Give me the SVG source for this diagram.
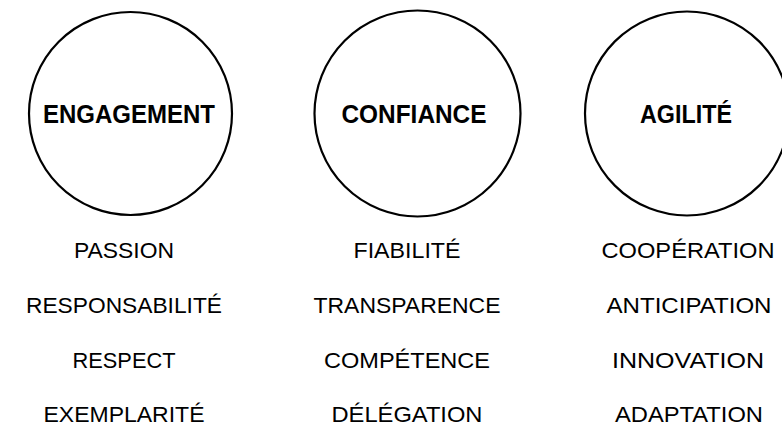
<svg xmlns="http://www.w3.org/2000/svg" width="782" height="426" viewBox="0 0 782 426">
<style>
.c{fill:#fff;stroke:#000;stroke-width:2.2}
.h{font-family:"Liberation Sans",Arial,sans-serif;font-weight:bold;font-size:25px;fill:#000;text-anchor:middle}
.t{font-family:"Liberation Sans",Arial,sans-serif;font-size:22.5px;fill:#000;text-anchor:middle}
</style>
<rect width="782" height="426" fill="#fff"/>
<g id="engagement">
<circle class="c" cx="130.5" cy="113.5" r="101.5"/>
<text class="h" x="129" y="123" textLength="172" lengthAdjust="spacingAndGlyphs">ENGAGEMENT</text>
<text class="t" x="124" y="258" textLength="100" lengthAdjust="spacingAndGlyphs">PASSION</text>
<text class="t" x="124" y="313" textLength="196" lengthAdjust="spacingAndGlyphs">RESPONSABILITÉ</text>
<text class="t" x="124" y="367.5" textLength="103" lengthAdjust="spacingAndGlyphs">RESPECT</text>
<text class="t" x="124" y="422" textLength="161" lengthAdjust="spacingAndGlyphs">EXEMPLARITÉ</text>
</g>
<g id="confiance">
<circle class="c" cx="417.5" cy="113.5" r="103"/>
<text class="h" x="414" y="123" textLength="145" lengthAdjust="spacingAndGlyphs">CONFIANCE</text>
<text class="t" x="407" y="258" textLength="107" lengthAdjust="spacingAndGlyphs">FIABILITÉ</text>
<text class="t" x="407" y="313" textLength="187" lengthAdjust="spacingAndGlyphs">TRANSPARENCE</text>
<text class="t" x="407" y="367.5" textLength="166" lengthAdjust="spacingAndGlyphs">COMPÉTENCE</text>
<text class="t" x="407" y="422" textLength="151" lengthAdjust="spacingAndGlyphs">DÉLÉGATION</text>
</g>
<g id="agilite">
<circle class="c" cx="687" cy="113.5" r="102"/>
<text class="h" x="686" y="123" textLength="92" lengthAdjust="spacingAndGlyphs">AGILITÉ</text>
<text class="t" x="688" y="258" textLength="173" lengthAdjust="spacingAndGlyphs">COOPÉRATION</text>
<text class="t" x="689" y="313" textLength="165" lengthAdjust="spacingAndGlyphs">ANTICIPATION</text>
<text class="t" x="688" y="367.5" textLength="152" lengthAdjust="spacingAndGlyphs">INNOVATION</text>
<text class="t" x="689" y="422" textLength="148" lengthAdjust="spacingAndGlyphs">ADAPTATION</text>
</g>
<g id="connectors"/>
</svg>
